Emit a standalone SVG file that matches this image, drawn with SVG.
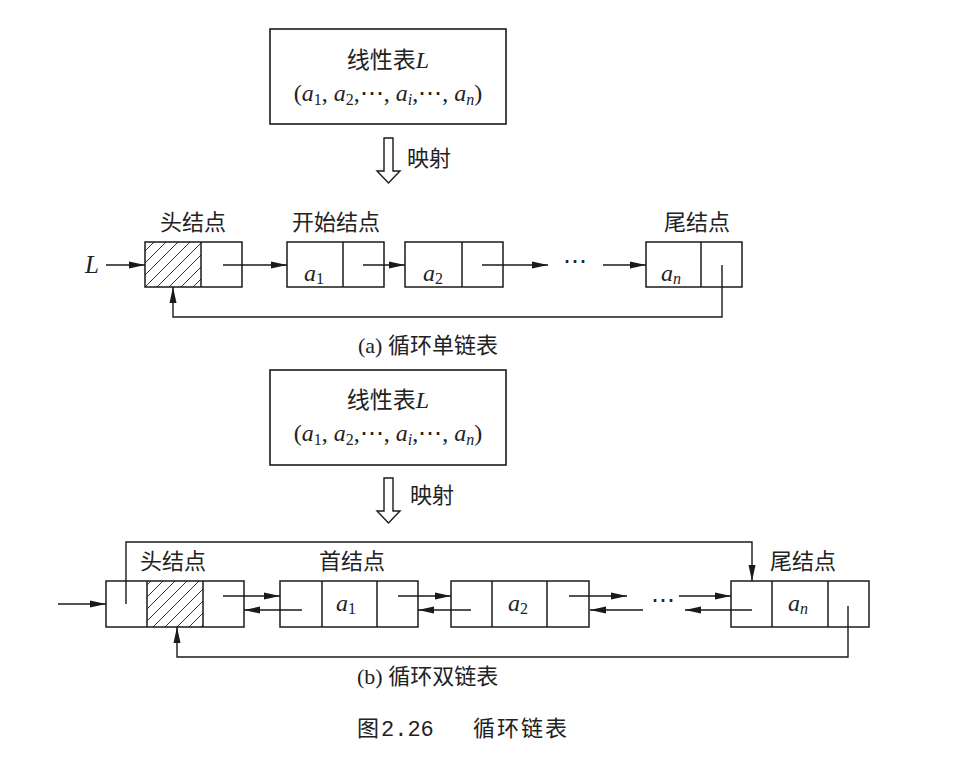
<svg xmlns="http://www.w3.org/2000/svg" width="978" height="761" viewBox="0 0 978 761">
<style>
.box{fill:none;stroke:#1a1a1a;stroke-width:1.6}
.cell{fill:none;stroke:#1a1a1a;stroke-width:1.5}
.ln{fill:none;stroke:#1a1a1a;stroke-width:1.4}
.arr{fill:none;stroke:#1a1a1a;stroke-width:1.4;marker-end:url(#ah)}
.cjk{font-family:"Noto Sans CJK SC","Noto Sans",sans-serif;font-size:22px;fill:#222}
.math{font-family:"Liberation Serif","DejaVu Serif",serif;font-size:24px;fill:#222}
.i{font-style:italic}
.sub{font-size:16px}
.mono{font-family:"Liberation Mono","DejaVu Sans Mono",monospace;font-size:22px;fill:#222}
.hollow{fill:#fff;stroke:#1a1a1a;stroke-width:1.4}
</style>
<defs>
<marker id="ah" markerUnits="userSpaceOnUse" markerWidth="16" markerHeight="8" refX="16" refY="4" orient="auto">
<path d="M0,0.5 L16,4 L0,7.5 z" fill="#1a1a1a"/>
</marker>
<pattern id="hatch" patternUnits="userSpaceOnUse" width="12" height="12">
<path d="M0,12 L12,0 M-3,3 L3,-3 M9,15 L15,9" stroke="#333" stroke-width="1"/>
</pattern>
</defs>
<rect width="978" height="761" fill="#fff"/>

<!-- ===== (a) ===== -->
<g id="listA">
<rect class="box" x="270" y="29" width="236" height="95"/>
<text class="cjk" x="388" y="68" text-anchor="middle" style="font-size:23px">线性表<tspan class="math i">L</tspan></text>
<text class="math" x="388" y="101" text-anchor="middle">(<tspan class="i">a</tspan><tspan class="sub" dy="4">1</tspan><tspan dy="-4">, </tspan><tspan class="i">a</tspan><tspan class="sub" dy="4">2</tspan><tspan dy="-4">,⋯, </tspan><tspan class="i">a</tspan><tspan class="sub i" dy="4">i</tspan><tspan dy="-4">,⋯, </tspan><tspan class="i">a</tspan><tspan class="sub i" dy="4">n</tspan><tspan dy="-4">)</tspan></text>
</g>
<g id="mapA">
<path class="hollow" d="M384,138 H393 V171 H400 L388.5,183 L377,171 H384 Z"/>
<text class="cjk" x="407" y="166">映射</text>
</g>

<g id="headA">
<rect x="145" y="242" width="56" height="45" fill="url(#hatch)"/>
<rect class="cell" x="145" y="242" width="97" height="45"/>
<line class="cell" x1="201" y1="242" x2="201" y2="287"/>
<text class="cjk" x="193" y="230" text-anchor="middle">头结点</text>
</g>
<g id="a1A">
<rect class="cell" x="287" y="242" width="97" height="45"/>
<line class="cell" x1="343" y1="242" x2="343" y2="287"/>
<text class="math" x="304" y="281"><tspan class="i">a</tspan><tspan class="sub" dy="3">1</tspan></text>
<text class="cjk" x="336" y="230" text-anchor="middle">开始结点</text>
</g>
<g id="a2A">
<rect class="cell" x="405" y="242" width="98" height="45"/>
<line class="cell" x1="462" y1="242" x2="462" y2="287"/>
<text class="math" x="423" y="281"><tspan class="i">a</tspan><tspan class="sub" dy="3">2</tspan></text>
</g>
<g id="anA">
<rect class="cell" x="646" y="242" width="96" height="45"/>
<line class="cell" x1="701" y1="242" x2="701" y2="287"/>
<text class="math" x="661" y="281"><tspan class="i">a</tspan><tspan class="sub i" dy="3">n</tspan></text>
<text class="cjk" x="697" y="230" text-anchor="middle">尾结点</text>
</g>
<g id="edgesA">
<text class="math i" x="85" y="273" style="font-size:25px">L</text>
<line class="arr" x1="106" y1="265" x2="145" y2="265"/>
<line class="arr" x1="223" y1="265" x2="287" y2="265"/>
<line class="arr" x1="363" y1="265" x2="405" y2="265"/>
<line class="arr" x1="482" y1="265" x2="548" y2="265"/>
<text class="math" x="575" y="269" text-anchor="middle">⋯</text>
<line class="arr" x1="603" y1="265" x2="646" y2="265"/>
<path class="arr" d="M722,265 V317 H173 V287"/>
</g>
<text id="capA" class="cjk" x="358" y="353"><tspan class="math" style="font-size:22px">(a) </tspan>循环单链表</text>

<!-- ===== (b) ===== -->
<g id="listB">
<rect class="box" x="270" y="370" width="236" height="95"/>
<text class="cjk" x="388" y="408" text-anchor="middle" style="font-size:23px">线性表<tspan class="math i">L</tspan></text>
<text class="math" x="388" y="441" text-anchor="middle">(<tspan class="i">a</tspan><tspan class="sub" dy="4">1</tspan><tspan dy="-4">, </tspan><tspan class="i">a</tspan><tspan class="sub" dy="4">2</tspan><tspan dy="-4">,⋯, </tspan><tspan class="i">a</tspan><tspan class="sub i" dy="4">i</tspan><tspan dy="-4">,⋯, </tspan><tspan class="i">a</tspan><tspan class="sub i" dy="4">n</tspan><tspan dy="-4">)</tspan></text>
</g>
<g id="mapB">
<path class="hollow" d="M384,478 H393 V511 H400 L388.5,523 L377,511 H384 Z"/>
<text class="cjk" x="410" y="503">映射</text>
</g>

<g id="headB">
<rect x="147" y="581" width="56" height="46" fill="url(#hatch)"/>
<rect class="cell" x="106" y="581" width="138" height="46"/>
<line class="cell" x1="147" y1="581" x2="147" y2="627"/>
<line class="cell" x1="203" y1="581" x2="203" y2="627"/>
<text class="cjk" x="173" y="569" text-anchor="middle">头结点</text>
</g>
<g id="a1B">
<rect class="cell" x="280" y="581" width="138" height="46"/>
<line class="cell" x1="322" y1="581" x2="322" y2="627"/>
<line class="cell" x1="377" y1="581" x2="377" y2="627"/>
<text class="math" x="336" y="611"><tspan class="i">a</tspan><tspan class="sub" dy="3">1</tspan></text>
<text class="cjk" x="352" y="569" text-anchor="middle">首结点</text>
</g>
<g id="a2B">
<rect class="cell" x="451" y="581" width="138" height="46"/>
<line class="cell" x1="492" y1="581" x2="492" y2="627"/>
<line class="cell" x1="547" y1="581" x2="547" y2="627"/>
<text class="math" x="508" y="611"><tspan class="i">a</tspan><tspan class="sub" dy="3">2</tspan></text>
</g>
<g id="anB">
<rect class="cell" x="731" y="581" width="138" height="46"/>
<line class="cell" x1="772" y1="581" x2="772" y2="627"/>
<line class="cell" x1="828" y1="581" x2="828" y2="627"/>
<text class="math" x="788" y="611"><tspan class="i">a</tspan><tspan class="sub i" dy="3">n</tspan></text>
<text class="cjk" x="803" y="569" text-anchor="middle">尾结点</text>
</g>
<g id="edgesB">
<line class="arr" x1="58" y1="604" x2="106" y2="604"/>
<line class="arr" x1="223" y1="596" x2="280" y2="596"/>
<line class="arr" x1="302" y1="610" x2="244" y2="610"/>
<line class="arr" x1="398" y1="596" x2="451" y2="596"/>
<line class="arr" x1="471" y1="610" x2="418" y2="610"/>
<line class="arr" x1="569" y1="596" x2="627" y2="596"/>
<line class="arr" x1="643" y1="610" x2="590" y2="610"/>
<text class="math" x="663" y="608" text-anchor="middle">⋯</text>
<line class="arr" x1="679" y1="596" x2="731" y2="596"/>
<line class="arr" x1="752" y1="610" x2="685" y2="610"/>
<path class="arr" d="M126,604 V542 H752 V581"/>
<path class="arr" d="M848,606 V657 H177 V627"/>
</g>
<text id="capB" class="cjk" x="357" y="684"><tspan class="math" style="font-size:22px">(b) </tspan>循环双链表</text>

<g id="figcap">
<text class="cjk" x="357" y="736">图</text>
<text class="mono" x="381" y="736">2.26</text>
<text class="cjk" x="473" y="736" style="letter-spacing:2px">循环链表</text>
</g>
</svg>
